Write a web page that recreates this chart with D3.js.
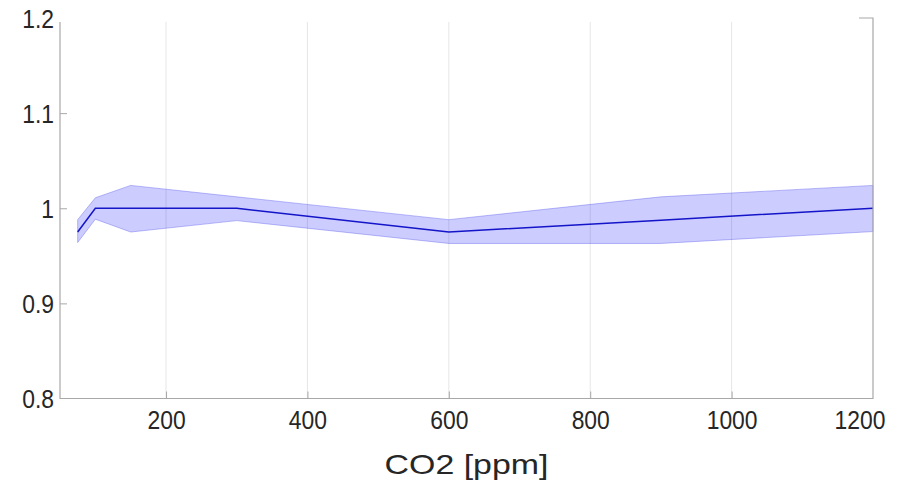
<!DOCTYPE html>
<html>
<head>
<meta charset="utf-8">
<script src="https://cdn.jsdelivr.net/npm/d3@7"></script>
<style>
  html, body { margin: 0; padding: 0; background: #fff; }
  svg { display: block; }
  .tick-label { font-family: "Liberation Sans", Arial, sans-serif; fill: #262626; }
</style>
</head>
<body>
<svg id="chart" width="907" height="480"></svg>
<script>
// CO2 concentration (ppm) at each sample
const co2 = [75, 100, 150, 300, 600, 900, 1200];
// Mean response and its upper / lower bounds
const meanValues = [0.975, 1.0, 1.0, 1.0, 0.975, 0.9875, 1.0];
const upperValues = [0.988, 1.011, 1.024, 1.012, 0.988, 1.012, 1.024];
const lowerValues = [0.964, 0.9885, 0.975, 0.987, 0.963, 0.963, 0.9755];

const xTicks = [200, 400, 600, 800, 1000, 1200];
const yTicks = [0.8, 0.9, 1.0, 1.1, 1.2];
const yTickLabels = ["0.8", "0.9", "1", "1.1", "1.2"];
const xLabel = "CO2 [ppm]";

const svg = d3.select("#chart");
const plotLeft = 60, plotRight = 873, plotTop = 18, plotBottom = 398.5;

const x = d3.scaleLinear().domain([50, 1200]).range([plotLeft, plotRight]);
const y = d3.scaleLinear().domain([0.8, 1.2]).range([plotBottom, plotTop]);

const axisColor = "#a8a8a8";

// squeeze a text node horizontally to give a condensed look
function condense(sel, factor) {
  sel.each(function () {
    const w = this.getComputedTextLength();
    d3.select(this).attr("textLength", w * factor).attr("lengthAdjust", "spacingAndGlyphs");
  });
}

// vertical grid lines
svg.append("g")
  .selectAll("line")
  .data(xTicks.filter(d => d < 1200))
  .join("line")
  .attr("x1", d => x(d)).attr("x2", d => x(d))
  .attr("y1", plotTop).attr("y2", plotBottom)
  .attr("stroke", "#e6e6e6")
  .attr("stroke-width", 1);

const pts = co2.map((c, i) => ({ c, m: meanValues[i], u: upperValues[i], l: lowerValues[i] }));

// confidence band
svg.append("path")
  .datum(pts)
  .attr("d", d3.area().x(d => x(d.c)).y0(d => y(d.l)).y1(d => y(d.u)))
  .attr("fill", "rgb(0,0,255)")
  .attr("fill-opacity", 0.2)
  .attr("stroke", "rgb(90,90,235)")
  .attr("stroke-opacity", 0.4)
  .attr("stroke-width", 1);

// mean line
svg.append("path")
  .datum(pts)
  .attr("d", d3.line().x(d => x(d.c)).y(d => y(d.m)))
  .attr("fill", "none")
  .attr("stroke", "#1414c8")
  .attr("stroke-width", 1.5);

// white strip over the top of the plot area where the heading sits
svg.append("rect")
  .attr("x", 0).attr("y", 0)
  .attr("width", plotRight - 14).attr("height", 22)
  .attr("fill", "#fff");

// axes drawn with d3-axis
const xAxis = d3.axisBottom(x).tickValues(xTicks).tickSize(-7).tickSizeOuter(0).tickPadding(12).tickFormat(d3.format("d"));
const yAxis = d3.axisLeft(y).tickValues(yTicks).tickSize(-7).tickSizeOuter(0).tickPadding(6)
  .tickFormat((d, i) => yTickLabels[i]);

const gx = svg.append("g").attr("transform", `translate(0,${plotBottom})`).call(xAxis);
const gy = svg.append("g").attr("transform", `translate(${plotLeft},0)`).call(yAxis);

[gx, gy].forEach(g => {
  g.select(".domain").remove();
  g.selectAll(".tick line").attr("stroke", axisColor);
  g.selectAll(".tick text").attr("class", "tick-label").style("font-size", "26px");
  condense(g.selectAll(".tick text"), 0.88);
});
gy.selectAll(".tick").filter(d => d === 0.8 || d === 1.2).select("line").remove();
gx.selectAll(".tick").filter(d => d === 1200).select("line").remove();
gx.selectAll(".tick").filter(d => d === 1200).select("text")
  .attr("text-anchor", "end").attr("x", 885 - plotRight);
gy.selectAll(".tick text").attr("dy", "0.36em");

// plot frame
svg.append("path")
  .attr("d", `M${plotLeft},22 V${plotBottom} H${plotRight} V${plotTop} H${plotRight - 14}`)
  .attr("fill", "none")
  .attr("stroke", axisColor)
  .attr("stroke-width", 1.2);

const xt = svg.append("text")
  .attr("class", "tick-label")
  .attr("x", (plotLeft + plotRight) / 2)
  .attr("y", 474)
  .attr("text-anchor", "middle")
  .style("font-size", "28px")
  .text(xLabel);
xt.attr("textLength", 164).attr("lengthAdjust", "spacingAndGlyphs");
</script>
</body>
</html>
